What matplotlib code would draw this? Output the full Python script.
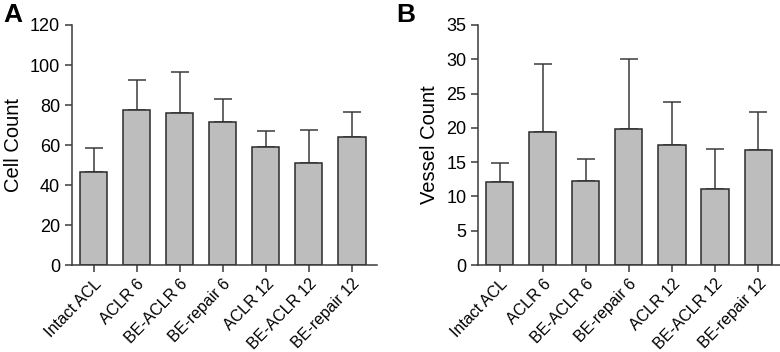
import matplotlib
matplotlib.use('Agg')
import matplotlib.pyplot as plt
import numpy as np

plt.rcParams['font.family'] = ['Liberation Sans', 'DejaVu Sans']

# Groups
groups = ['Intact ACL', 'ACLR 6', 'BE-ACLR 6', 'BE-repair 6',
          'ACLR 12', 'BE-ACLR 12', 'BE-repair 12']

# Panel A: cell count (mean, upper SD)
cell_mean = [46.3, 77.3, 75.8, 71.5, 58.8, 51.0, 64.0]
cell_sd = [12.1, 15.4, 20.7, 11.5, 8.0, 16.7, 12.7]

# Panel B: vessel count (mean, upper SD)
vessel_mean = [12.1, 19.4, 12.2, 19.85, 17.5, 11.05, 16.8]
vessel_sd = [2.75, 9.9, 3.2, 10.15, 6.2, 5.9, 5.5]

bar_color = '#bdbdbd'
edge_color = '#2b2b2b'
line_color = '#3a3a3a'

fig = plt.figure(figsize=(7.8, 3.52), dpi=100)
axA = fig.add_axes([0.0923, 0.247, 0.391, 0.682])
axB = fig.add_axes([0.613, 0.247, 0.391, 0.682])


def draw_panel(ax, means, sds, ymax, ystep, ylabel, letter, letter_x):
    x = np.arange(len(groups))
    ax.bar(x, means, width=0.63, color=bar_color, edgecolor=edge_color,
           linewidth=1.1, zorder=2)
    ax.errorbar(x, means, yerr=[np.zeros(len(sds)), sds], fmt='none',
                ecolor=line_color, elinewidth=1.1, capsize=6.5,
                capthick=1.1, zorder=1)
    ax.set_xlim(-0.5, 6.58)
    ax.set_ylim(0, ymax)
    ax.set_yticks(np.arange(0, ymax + 0.1, ystep))
    ax.set_xticks(x)
    ax.set_xticklabels(groups, rotation=46, ha='right',
                       rotation_mode='anchor', fontsize=11.5)
    ax.tick_params(axis='both', direction='out', length=5, width=1.1,
                   color=line_color, labelsize=13)
    ax.tick_params(axis='x', labelsize=11.5, pad=3)
    for s in ['top', 'right']:
        ax.spines[s].set_visible(False)
    for s in ['left', 'bottom']:
        ax.spines[s].set_color(line_color)
        ax.spines[s].set_linewidth(1.1)
    ax.set_ylabel(ylabel, fontsize=14.5, labelpad=5)
    fig.text(letter_x, 0.992, letter, fontsize=19, fontweight='bold',
             va='top', ha='left')


draw_panel(axA, cell_mean, cell_sd, 120, 20, 'Cell Count', 'A', 0.004)
draw_panel(axB, vessel_mean, vessel_sd, 35, 5, 'Vessel Count', 'B', 0.508)

fig.savefig('out.png', dpi=100)
